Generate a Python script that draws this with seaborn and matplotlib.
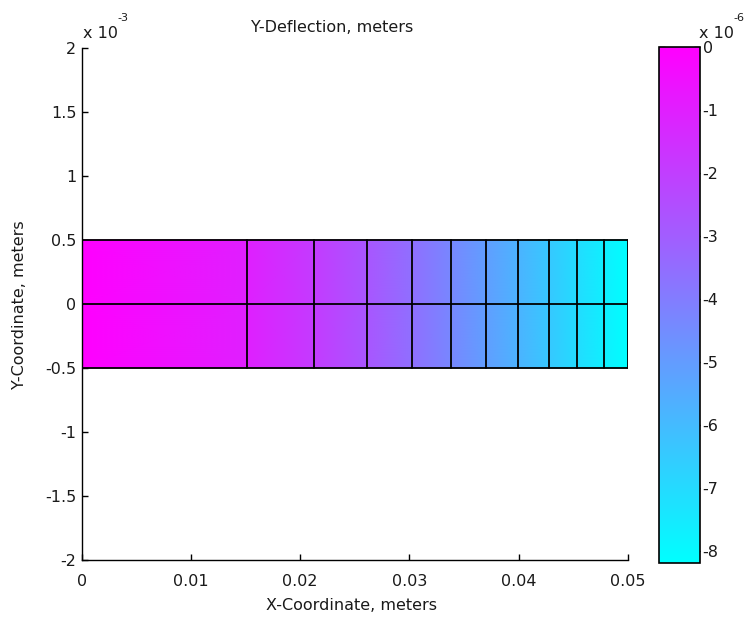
import numpy as np
import matplotlib
matplotlib.use("Agg")
import matplotlib.pyplot as plt
import seaborn as sns
from matplotlib.ticker import FuncFormatter

# ---- data ----
node_x = [0.0, 0.01508, 0.02122, 0.02608, 0.0302, 0.03377, 0.03698,
          0.03992, 0.04276, 0.04533, 0.0478, 0.05]          # meters
node_y = [-0.5e-3, 0.0, 0.5e-3]                             # meters
defl_e6 = [0.0, -1.01, -1.90, -2.76, -3.58, -4.35, -5.07,
           -5.75, -6.43, -7.05, -7.66, -8.19]               # x 1e-6 m
xticks = [0, 0.01, 0.02, 0.03, 0.04, 0.05]
yticks_e3 = [-2, -1.5, -1, -0.5, 0, 0.5, 1, 1.5, 2]
cbticks_e6 = [0, -1, -2, -3, -4, -5, -6, -7, -8]

sns.set_theme(style="ticks")
plt.rcParams['font.family'] = ['DejaVu Sans']
FS = 11.5
TC = '#1a1a1a'
plt.rcParams['font.size'] = FS
plt.rcParams['text.color'] = TC
plt.rcParams['xtick.direction'] = 'in'
plt.rcParams['ytick.direction'] = 'in'

W, H = 751, 620
fig = plt.figure(figsize=(7.51, 6.2), dpi=100)
ax = fig.add_axes([0.109, 0.0968, 0.727, 0.8258])
cax = fig.add_axes([0.8775, 0.092, 0.0545, 0.832])

X, Y = np.meshgrid(np.array(node_x), np.array(node_y))
C = np.tile(np.array(defl_e6) * 1e-6, (len(node_y), 1))
vmin, vmax = min(defl_e6) * 1e-6, 0.0
mesh = ax.pcolormesh(X, Y, C, shading='gouraud', cmap='cool', vmin=vmin, vmax=vmax)

# element edges
for xv in node_x:
    ax.plot([xv, xv], [node_y[0], node_y[-1]], color='black', lw=1.3)
for yv in node_y:
    ax.plot([node_x[0], node_x[-1]], [yv, yv], color='black', lw=1.3)

ax.set_xlim(0, 0.05)
ax.set_ylim(-2e-3, 2e-3)
ax.set_xticks(xticks)
ax.xaxis.set_major_formatter(FuncFormatter(lambda v, p: ('%g' % round(v, 4))))
ax.set_yticks([v * 1e-3 for v in yticks_e3])
ax.yaxis.set_major_formatter(FuncFormatter(lambda v, p: ('%g' % round(v * 1e3, 3))))
for s in ['top', 'right']:
    ax.spines[s].set_visible(False)
for s in ['left', 'bottom']:
    ax.spines[s].set_linewidth(1.0)
    ax.spines[s].set_color('black')
ax.tick_params(length=4, width=1, colors='black', labelcolor=TC, labelsize=FS)
ax.tick_params(axis='x', pad=10)
ax.tick_params(axis='y', pad=4)

# labels placed at the reference positions (figure pixels)
fig.text(332 / W, 1 - 27 / H, 'Y-Deflection, meters', ha='center', va='center', fontsize=FS)
fig.text(352 / W, 1 - 605 / H, 'X-Coordinate, meters', ha='center', va='center', fontsize=FS)
fig.text(20 / W, 1 - 305 / H, 'Y-Coordinate, meters', ha='center', va='center',
         rotation=90, fontsize=FS)
fig.text(83 / W, 1 - 34 / H, 'x 10', ha='left', va='center', fontsize=FS)
fig.text(117 / W, 1 - 18 / H, '-3', ha='left', va='center', fontsize=FS * 0.7)

cb = fig.colorbar(mesh, cax=cax)
cb.set_ticks([v * 1e-6 for v in cbticks_e6])
cb.ax.yaxis.set_major_formatter(FuncFormatter(lambda v, p: '%g' % round(v * 1e6, 3)))
cb.outline.set_linewidth(1.2)
cb.outline.set_edgecolor('black')
cax.tick_params(axis='y', which='both', direction='in', length=4, width=1,
                left=True, right=True, colors='black', labelcolor=TC,
                labelsize=FS, pad=2)
fig.text(699 / W, 1 - 34 / H, 'x 10', ha='left', va='center', fontsize=FS)
fig.text(733 / W, 1 - 18 / H, '-6', ha='left', va='center', fontsize=FS * 0.7)

fig.savefig('out.png', dpi=100)
